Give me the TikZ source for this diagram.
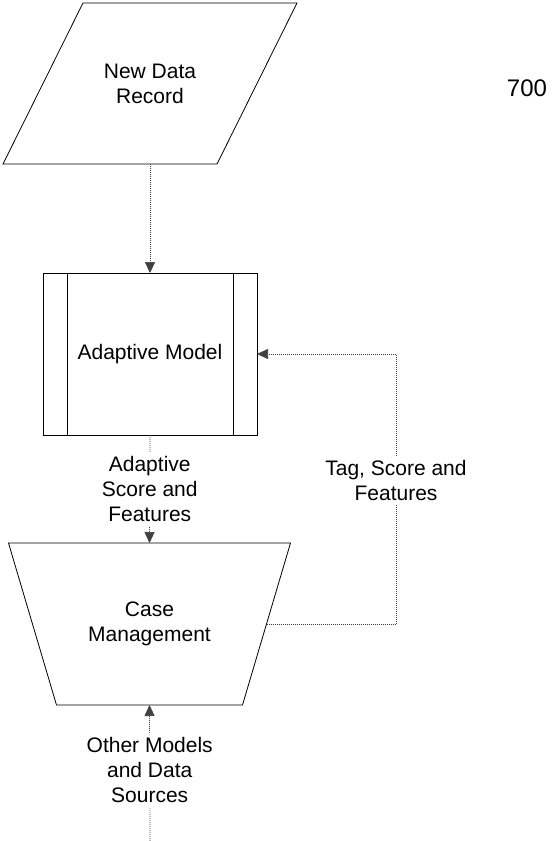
\documentclass[tikz,border=0pt]{standalone}
\usepackage{fontspec}
\setmainfont{Liberation Sans}
\usepackage{tikz}
\usetikzlibrary{arrows.meta}

\tikzset{
  blk/.style={align=center, outer sep=0pt, font=\fontsize{21}{25}\selectfont},
  shp/.style={draw, line width=0.8pt, line join=miter},
  flow/.style={draw=black!75, line width=0.7pt, dash pattern=on 1pt off 1pt,
    -{Triangle[width=10pt,length=11pt]}},
  lbl/.style={fill=white, inner sep=4pt, align=center,
    font=\fontsize{21}{25}\selectfont}
}

\begin{document}
\begin{tikzpicture}[x=1pt,y=-1pt]
\useasboundingbox (0,0) rectangle (556,841);

% input record (parallelogram)
\node[blk, minimum width=294pt, minimum height=161pt] (record) at (150,83.5)
{New Data\\Record};
\draw[shp] (record.south west) -- ([xshift=80pt]record.north west) -- (record.north east)
  -- ([xshift=-80pt]record.south east) -- cycle;

% model (predefined process)
\node[blk, shp, minimum width=214pt, minimum height=162pt] (model) at (150,354)
{Adaptive Model};
\draw[line width=0.6pt] ([xshift=24pt]model.north west) -- ([xshift=24pt]model.south west);
\draw[line width=0.6pt] ([xshift=-24pt]model.north east) -- ([xshift=-24pt]model.south east);

% case management (trapezoid)
\node[blk, minimum width=282pt, minimum height=162pt] (case) at (149.5,624)
{Case\\Management};
\draw[shp] (case.north west) -- (case.north east) -- ([xshift=-48pt]case.south east)
  -- ([xshift=48pt]case.south west) -- cycle;

\node[font=\fontsize{24}{28}\selectfont] (num) at (527,88) {700};

\coordinate (caseE) at ([xshift=-24pt]case.east);
\coordinate (fbx) at (396,0);
\coordinate (src) at (150,841);

\draw[flow] (record.south) -- (model.north);

\draw[flow] (model.south) -- node[lbl] {Adaptive\\Score and\\Features} (case.north);

\draw[flow] (caseE) -- (caseE -| fbx)
  -- node[lbl, pos=0.53] {Tag, Score and\\Features} (model.east -| fbx) -- (model.east);

\draw[flow] (src) -- node[lbl, pos=0.52] {Other Models\\and Data\\Sources} (case.south);
\end{tikzpicture}
\end{document}
